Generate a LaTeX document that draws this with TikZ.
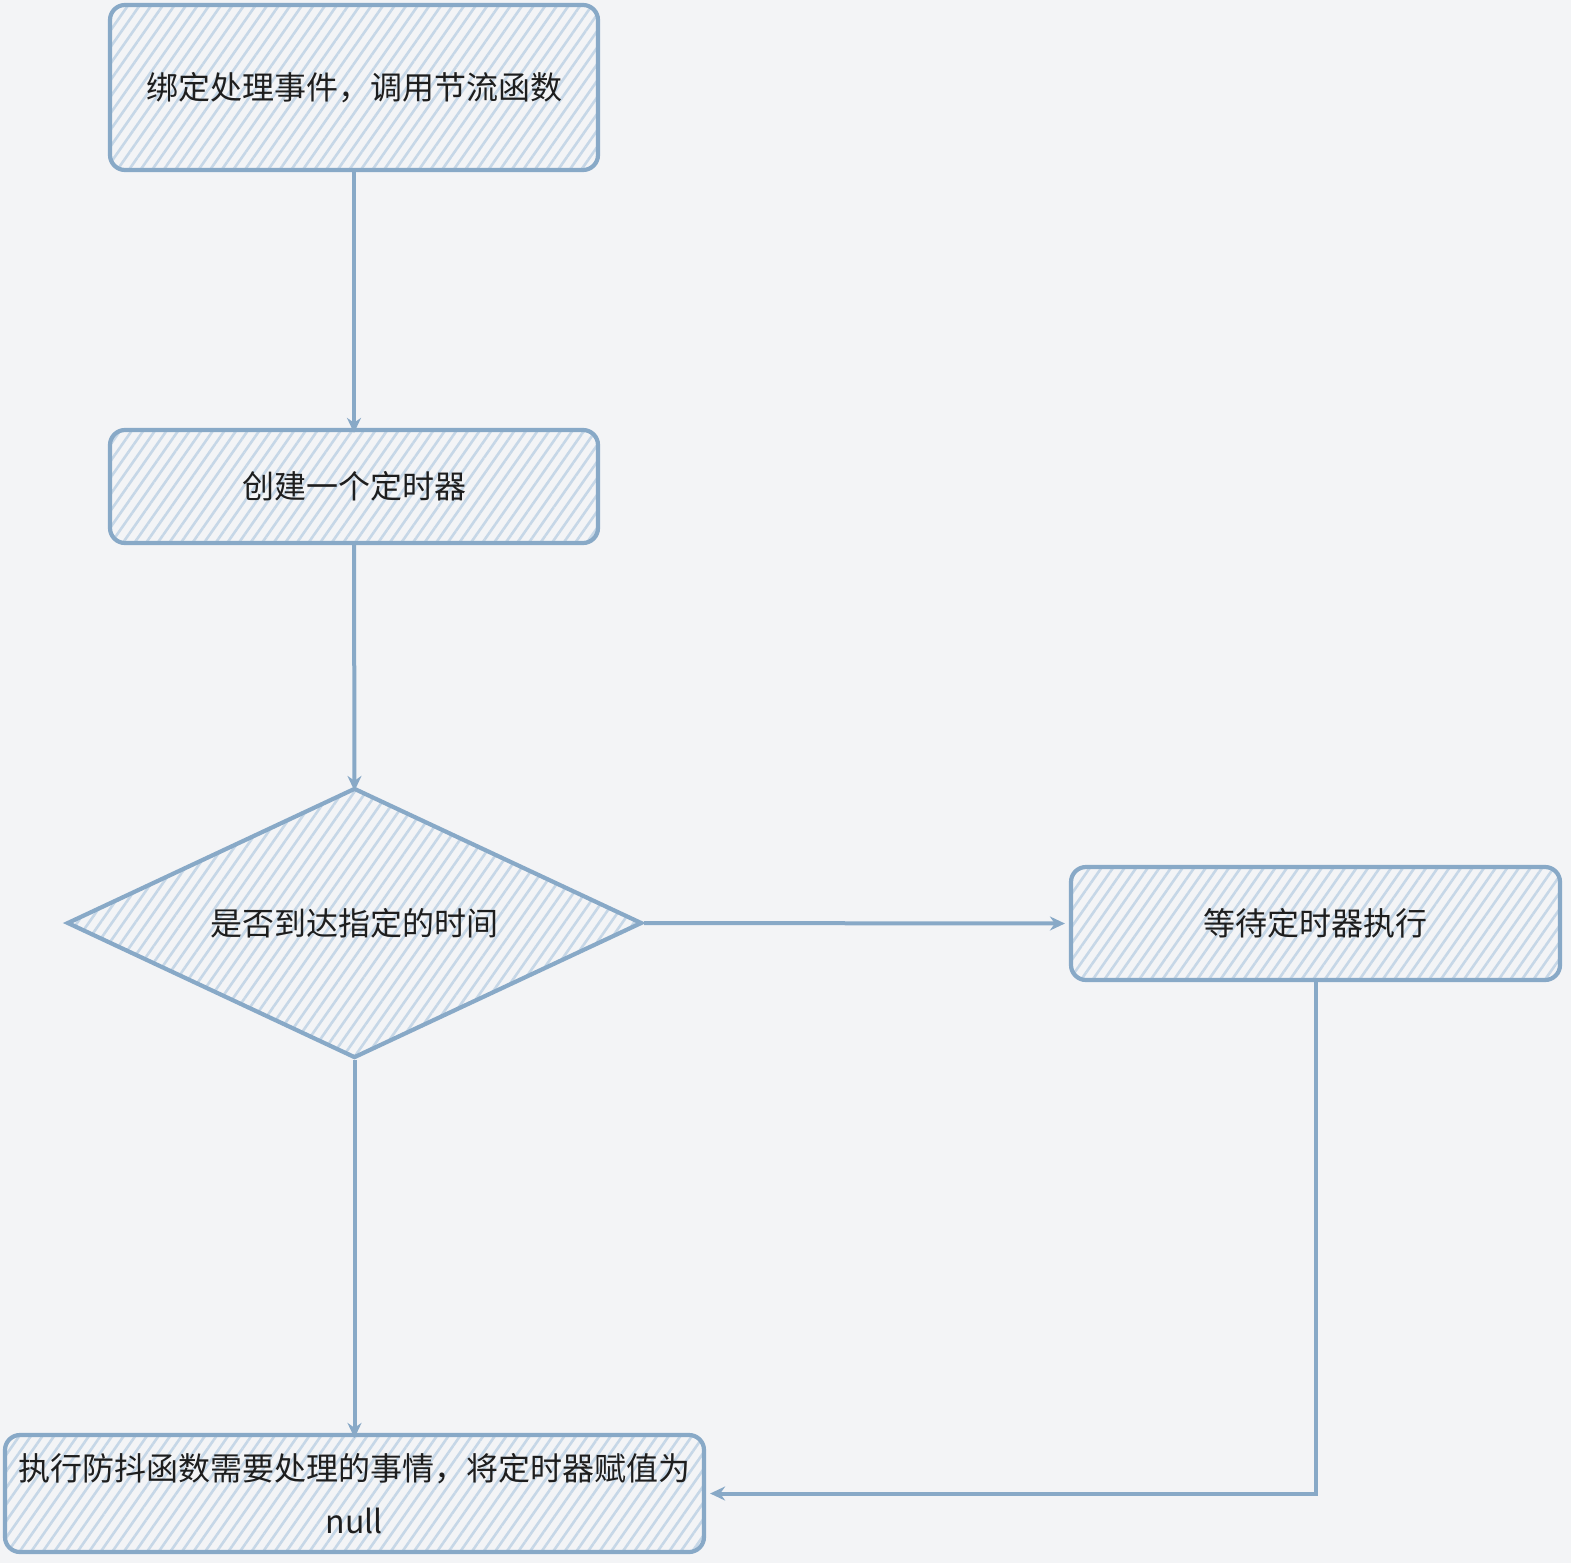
\documentclass[tikz,border=0pt]{standalone}
\usepackage{fontspec}
\newfontfamily\cjk{Noto Sans CJK SC}
\usetikzlibrary{shapes.geometric,patterns.meta,arrows.meta}
\definecolor{bgc}{HTML}{F3F4F6}
\definecolor{edgec}{HTML}{88A9C7}
\definecolor{hatchc}{HTML}{C6D7E7}
\definecolor{textc}{HTML}{1E1E1E}
\begin{document}
\begin{tikzpicture}[x=1pt,y=-1pt,
  shade/.style={pattern={Lines[angle=55,distance=9.5pt,line width=2.6pt]}, pattern color=hatchc},
  box/.style={draw=edgec, line width=4.2pt, rounded corners=15pt, shade, inner sep=0pt,
    font=\cjk\fontsize{32}{53}\selectfont, text=textc, align=center},
  dia/.style={draw=edgec, line width=4.2pt, diamond, aspect=2.13, shade, inner sep=0pt,
    font=\cjk\fontsize{32}{53}\selectfont, text=textc, align=center},
  conn/.style={draw=edgec, line width=4pt, -{Stealth[length=15pt,width=14pt]}}
]
\fill[bgc] (0,0) rectangle (1571,1563);
\useasboundingbox (0,0) rectangle (1571,1563);

\node[box, minimum width=488pt, minimum height=165pt] (b1) at (354,87.5) {绑定处理事件，调用节流函数};
\node[box, minimum width=488pt, minimum height=113pt] (b2) at (354,486.5) {创建一个定时器};
\node[dia, minimum width=575pt, minimum height=270pt] (d) at (354.5,923) {是否到达指定的时间};
\node[box, minimum width=489pt, minimum height=113pt] (r) at (1315.5,923.5) {等待定时器执行};
\node[box, minimum width=699pt, minimum height=117pt] (e) at (354.5,1493.5) {执行防抖函数需要处理的事情，将定时器赋值为\\null};

\coordinate (corner) at (r.south |- e.east);

\draw[conn] (b1.south) -- ([yshift=-5pt]b2.north);
\draw[conn] (b2.south) -- ([yshift=-5pt]d.north);
\draw[conn] (d.east) -- ([xshift=-4pt]r.west);
\draw[conn] (d.south) -- ([yshift=-5pt]e.north);
\draw[conn] (r.south) -- (corner) -- ([xshift=4pt]e.east);
\end{tikzpicture}
\end{document}
